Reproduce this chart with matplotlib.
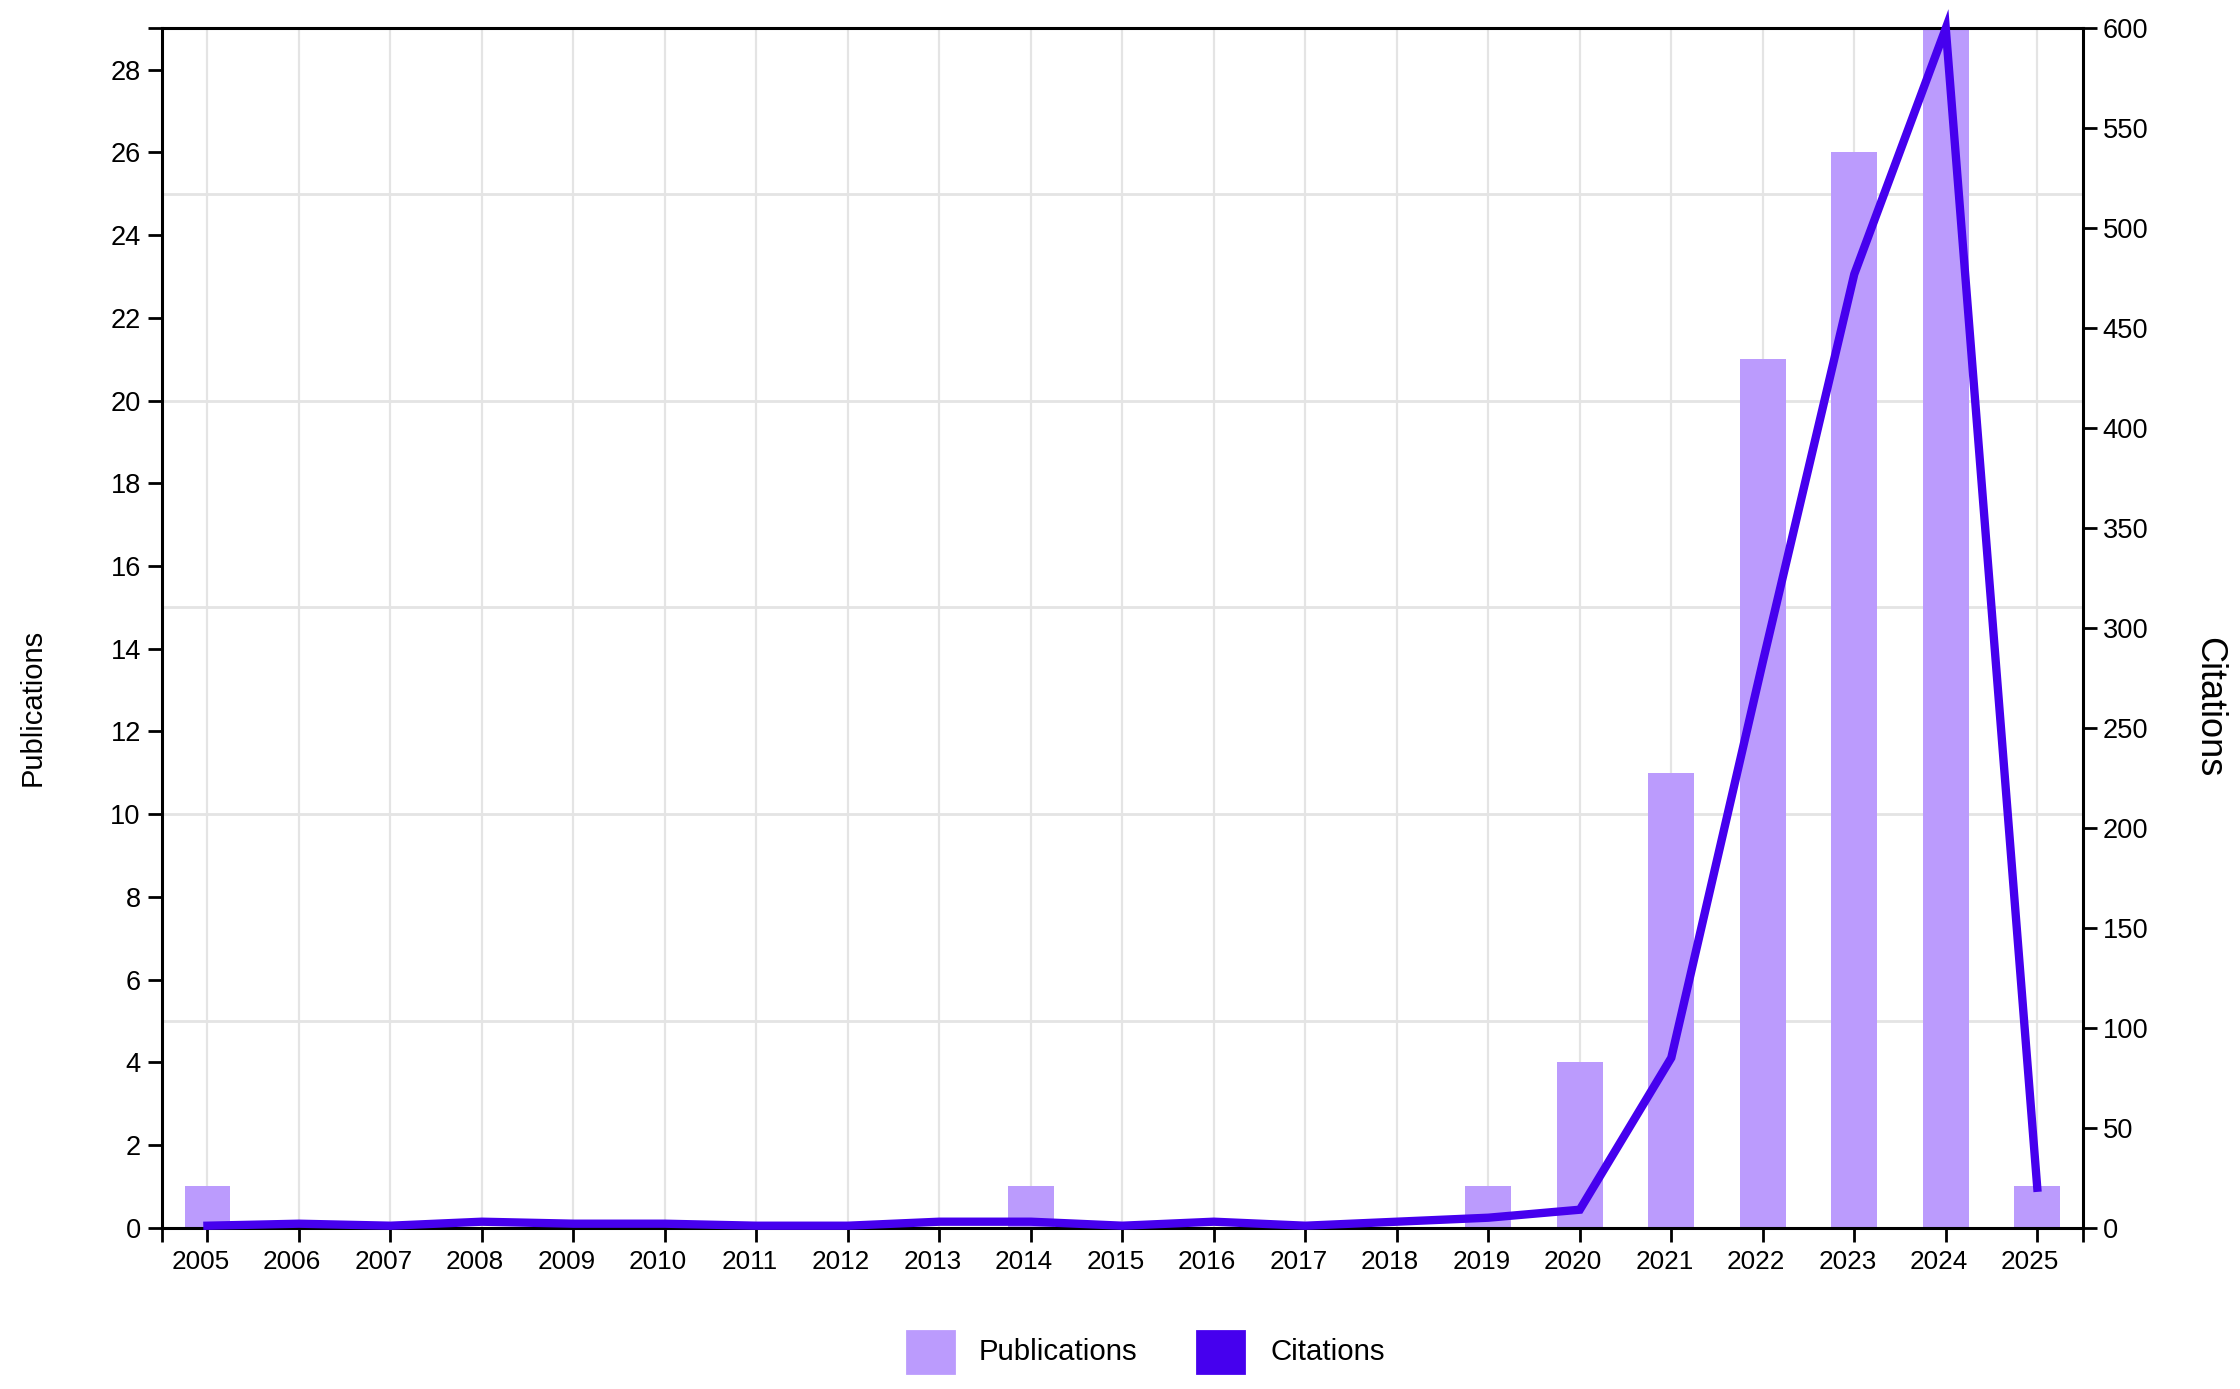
import matplotlib
matplotlib.use("Agg")
import matplotlib.pyplot as plt
from matplotlib.patches import Rectangle
from matplotlib.ticker import FixedLocator
from matplotlib.transforms import ScaledTranslation

# ---- data ----
years = [2005, 2006, 2007, 2008, 2009, 2010, 2011, 2012, 2013, 2014, 2015,
         2016, 2017, 2018, 2019, 2020, 2021, 2022, 2023, 2024, 2025]
publications = [1, 0, 0, 0, 0, 0, 0, 0, 0, 1, 0,
                0, 0, 0, 1, 4, 11, 21, 26, 29, 1]
citations = [1, 2, 1, 3, 2, 2, 1, 1, 3, 3, 1,
             3, 1, 3, 5, 9, 85, 283, 477, 600, 20]
year_labels = [str(y) for y in years]
pub_ticks = list(range(0, 29, 2))
cit_ticks = list(range(0, 601, 50))
pub_grid = [5, 10, 15, 20, 25]

BAR_C = "#bb9bfd"
LINE_C = "#4600ee"
GRID_C = "#e4e4e4"
REG = ["Liberation Sans", "DejaVu Sans"]

W, H = 2240, 1389
fig = plt.figure(figsize=(W / 200, H / 200), dpi=200)
L, R, T, B = 161.7 / W, 2083 / W, 1 - 28.3 / H, 1 - 1227.7 / H
ax = fig.add_axes([L, B, R - L, T - B])
ax2 = ax.twinx()

# grid
ax.set_axisbelow(True)
ax.xaxis.grid(True, color=GRID_C, lw=0.8)
ax.yaxis.grid(False)
for g in pub_grid:
    ax.axhline(g, color=GRID_C, lw=1.0, zorder=0)

ax.bar(years, publications, width=0.5, color=BAR_C, zorder=2)
ax.set_xlim(2004.5, 2025.5)
ax.set_ylim(0, 29)
ax.set_xticks(years)
ax.set_xticklabels(year_labels, family=REG, fontsize=9.4)
ax.set_yticks(pub_ticks)
ax.set_yticklabels([str(v) for v in pub_ticks], family=REG, fontsize=9.8)
ax.xaxis.set_minor_locator(FixedLocator([2004.5, 2025.5]))
ax.yaxis.set_minor_locator(FixedLocator([29]))
ax.tick_params(which="both", direction="out", length=5, width=1.0, color="black")
ax.tick_params(axis="x", pad=3.0)
ax.tick_params(axis="y", pad=2.5)

off = ScaledTranslation(-0.035, 0, fig.dpi_scale_trans)
for lbl in ax.get_xticklabels():
    lbl.set_transform(lbl.get_transform() + off)

ax2.plot(years, citations, color=LINE_C, lw=3.0, solid_joinstyle="miter",
         clip_on=False, zorder=3)
ax2.set_ylim(0, 600)
ax2.set_yticks(cit_ticks)
ax2.set_yticklabels([str(v) for v in cit_ticks], family=REG, fontsize=9.8)
ax2.tick_params(direction="out", length=5, width=1.0, pad=2, color="black")

for s in ["left", "top", "bottom"]:
    ax.spines[s].set_linewidth(1.1)
    ax.spines[s].set_color("black")
ax.spines["right"].set_visible(False)
for s in ["left", "top", "bottom"]:
    ax2.spines[s].set_visible(False)
ax2.spines["right"].set_linewidth(1.1)

fig.text(33 / W, 1 - 707 / H, "Publications", rotation=90, ha="center",
         va="center", family=REG, fontsize=10.5)
fig.text(2209 / W, 1 - 707 / H, "Citations", rotation=270, ha="center",
         va="center", family=REG, fontsize=13)

# legend
sqw, sqh = 47, 42
yc = 1352
for x0, tx, col, name in [(907, 979, BAR_C, "Publications"),
                          (1197, 1270, LINE_C, "Citations")]:
    fig.add_artist(Rectangle((x0 / W, 1 - (yc + sqh / 2) / H), sqw / W, sqh / H,
                             transform=fig.transFigure, color=col))
    fig.text(tx / W, 1 - yc / H, name, ha="left", va="center",
             family=REG, fontsize=10.6)

fig.savefig("out.png", dpi=200)
